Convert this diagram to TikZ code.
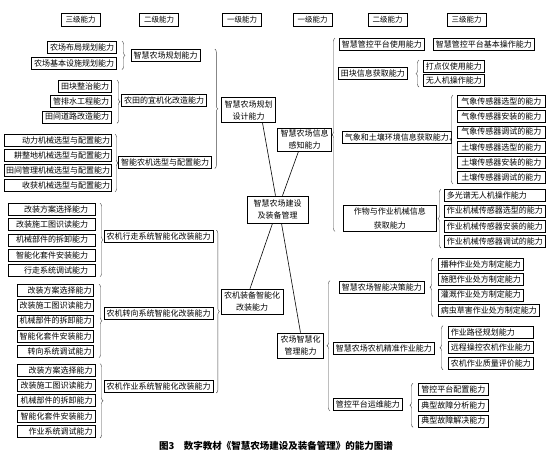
\documentclass[tikz,border=0pt]{standalone}
\usepackage{fontspec}
\newfontfamily\cjk{Noto Sans CJK SC}
\usetikzlibrary{positioning, decorations.pathreplacing, calc}
\tikzset{
  box_base/.style={rectangle, draw=black, line width=0.7pt, font=\cjk\fontsize{8}{10}\selectfont, inner xsep=2.5pt, inner ysep=1pt, minimum height=12pt},
  head_box/.style={box_base, font=\cjk\fontsize{7.5}{9}\selectfont, inner xsep=4.5pt, minimum height=13pt},
  lvl_one/.style={box_base, align=center, font=\cjk\fontsize{8}{12}\selectfont, inner xsep=3pt, minimum height=25pt},
  lvl_two/.style={box_base},
  lvl_three/.style={box_base},
  right_text/.style={text width=#1, align=right},
  left_text/.style={text width=#1, align=left},
  group_brace/.style={decorate, decoration={brace, amplitude=3pt}, draw=gray!55!black, line width=0.45pt},
  link/.style={-, draw=black, line width=0.6pt},
  cap_text/.style={font=\cjk\bfseries\fontsize{9.5}{11}\selectfont}
}

\begin{document}
\begin{tikzpicture}[x=1pt, y=-1pt]
  \useasboundingbox (0,0) rectangle (553,459);

  % --- Header row ---
  \node[head_box] (head3l) at (80.5,19.5) {三级能力};
  \node[head_box] (head2l) at (159,19.5) {二级能力};
  \node[head_box] (head1l) at (242,19.5) {一级能力};
  \node[head_box] (head1r) at (312.5,19.5) {一级能力};
  \node[head_box] (head2r) at (387.5,19.5) {二级能力};
  \node[head_box] (head3r) at (466.5,19.5) {三级能力};

  % --- First level ---
  \node[lvl_one, minimum width=61pt, minimum height=27pt] (core) at (277.5,209.5) {智慧农场建设\\及装备管理};
  \node[lvl_one, minimum width=53pt] (plan) at (248.5,110) {智慧农场规划\\设计能力};
  \node[lvl_one, minimum width=51pt, minimum height=23pt] (sense) at (304.5,139.5) {智慧农场信息\\感知能力};
  \node[lvl_one, minimum width=60pt] (equip) at (252,301.5) {农机装备智能化\\改装能力};
  \node[lvl_one, minimum width=45pt] (manage) at (300.5,345.5) {农场智慧化\\管理能力};

  % --- Left: farm planning ---
  \node[lvl_two] (farmplan) at (165.5,55.5) {智慧农场规划能力};
  \node[lvl_three, anchor=east] (layout) at (117,47.5) {农场布局规划能力};
  \node[lvl_three, below=3pt of layout.south east, anchor=north east] (infra) {农场基本设施规划能力};

  \node[lvl_two] (fieldmod) at (164,100.5) {农田的宜机化改造能力};
  \node[lvl_three, anchor=east] (lev) at (112,86.5) {田块整治能力};
  \node[lvl_three, below=2.5pt of lev.south east, anchor=north east] (drain) {管排水工程能力};
  \node[lvl_three, below=2.5pt of drain.south east, anchor=north east] (road) {田间道路改造能力};

  \node[lvl_two] (machsel) at (165,162) {智能农机选型与配置能力};
  \node[lvl_three, right_text=104pt, inner xsep=1.5pt, anchor=east] (powm) at (112,140.5) {动力机械选型与配置能力};
  \node[lvl_three, right_text=104pt, inner xsep=1.5pt, below=2.3pt of powm] (tillm) {耕整地机械选型与配置能力};
  \node[lvl_three, right_text=104pt, inner xsep=1.5pt, below=2.3pt of tillm] (mgmtm) {田间管理机械选型与配置能力};
  \node[lvl_three, right_text=104pt, inner xsep=1.5pt, below=2.3pt of mgmtm] (harvm) {收获机械选型与配置能力};

  % --- Left: retrofit ---
  \node[lvl_two] (walkmod) at (158.5,236.5) {农机行走系统智能化改装能力};
  \node[lvl_three, right_text=72pt, inner xsep=7.5pt, anchor=east] (walkA) at (96,209.5) {改装方案选择能力};
  \node[lvl_three, right_text=72pt, inner xsep=7.5pt, below=2.5pt of walkA] (walkB) {改装施工图识读能力};
  \node[lvl_three, right_text=72pt, inner xsep=7.5pt, below=2.5pt of walkB] (walkC) {机械部件的拆卸能力};
  \node[lvl_three, right_text=72pt, inner xsep=7.5pt, below=2.5pt of walkC] (walkD) {智能化套件安装能力};
  \node[lvl_three, right_text=72pt, inner xsep=7.5pt, below=2.5pt of walkD] (walkE) {行走系统调试能力};

  \node[lvl_two] (steermod) at (158.5,313.5) {农机转向系统智能化改装能力};
  \node[lvl_three, right_text=72pt, inner xsep=2pt, anchor=east] (steerA) at (94,290.5) {改装方案选择能力};
  \node[lvl_three, right_text=72pt, inner xsep=2pt, below=2.5pt of steerA] (steerB) {改装施工图识读能力};
  \node[lvl_three, right_text=72pt, inner xsep=2pt, below=2.5pt of steerB] (steerC) {机械部件的拆卸能力};
  \node[lvl_three, right_text=72pt, inner xsep=2pt, below=2.5pt of steerC] (steerD) {智能化套件安装能力};
  \node[lvl_three, right_text=72pt, inner xsep=2pt, below=2.5pt of steerD] (steerE) {转向系统调试能力};

  \node[lvl_two] (workmod) at (158.5,386.5) {农机作业系统智能化改装能力};
  \node[lvl_three, right_text=72pt, inner xsep=3pt, anchor=east] (workA) at (96,370) {改装方案选择能力};
  \node[lvl_three, right_text=72pt, inner xsep=3pt, below=2.7pt of workA] (workB) {改装施工图识读能力};
  \node[lvl_three, right_text=72pt, inner xsep=3pt, below=2.7pt of workB] (workC) {机械部件的拆卸能力};
  \node[lvl_three, right_text=72pt, inner xsep=3pt, below=2.7pt of workC] (workD) {智能化套件安装能力};
  \node[lvl_three, right_text=72pt, inner xsep=3pt, below=2.7pt of workD] (workE) {作业系统调试能力};

  % --- Right: sensing ---
  \node[lvl_two, anchor=west] (platuse) at (339,44.5) {智慧管控平台使用能力};
  \node[lvl_three, anchor=west] (platbasic) at (433,44.5) {智慧管控平台基本操作能力};

  \node[lvl_two, anchor=west] (fieldinfo) at (338,73) {田块信息获取能力};
  \node[lvl_three, anchor=west] (dotter) at (423,66.5) {打点仪使用能力};
  \node[lvl_three, below=1.5pt of dotter] (uav) {无人机操作能力};

  \node[lvl_two, anchor=west] (envinfo) at (342,137) {气象和土壤环境信息获取能力};
  \node[lvl_three, anchor=west, inner xsep=4pt] (wsel) at (457,101.5) {气象传感器选型的能力};
  \node[lvl_three, inner xsep=4pt, below=2.5pt of wsel] (winst) {气象传感器安装的能力};
  \node[lvl_three, inner xsep=4pt, below=2.5pt of winst] (wtest) {气象传感器调试的能力};
  \node[lvl_three, inner xsep=4pt, below=2.5pt of wtest] (ssel) {土壤传感器选型的能力};
  \node[lvl_three, inner xsep=4pt, below=2.5pt of ssel] (sinst) {土壤传感器安装的能力};
  \node[lvl_three, inner xsep=4pt, below=2.5pt of sinst] (stest) {土壤传感器调试的能力};

  \node[lvl_two, anchor=west, align=center, font=\cjk\fontsize{8}{14}\selectfont, minimum width=93pt, minimum height=26pt] (cropinfo) at (343,218) {作物与作业机械信息\\获取能力};
  \node[lvl_three, anchor=west, left_text=96pt] (msuav) at (444,195.5) {多光谱无人机操作能力};
  \node[lvl_three, left_text=96pt, below=2.7pt of msuav] (msel) {作业机械传感器选型的能力};
  \node[lvl_three, left_text=96pt, below=2.7pt of msel] (minst) {作业机械传感器安装的能力};
  \node[lvl_three, left_text=96pt, below=2.7pt of minst] (mtest) {作业机械传感器调试的能力};

  % --- Right: management ---
  \node[lvl_two, anchor=west] (decide) at (339,287) {智慧农场智能决策能力};
  \node[lvl_three, anchor=west] (sow) at (438,264.5) {播种作业处方制定能力};
  \node[lvl_three, below=2.5pt of sow.south west, anchor=north west] (fert) {施肥作业处方制定能力};
  \node[lvl_three, below=2.5pt of fert.south west, anchor=north west] (irrig) {灌溉作业处方制定能力};
  \node[lvl_three, below=2.5pt of irrig.south west, anchor=north west] (pest) {病虫草害作业处方制定能力};

  \node[lvl_two, anchor=west] (precise) at (333,348.5) {智慧农场农机精准作业能力};
  \node[lvl_three, anchor=west, left_text=80pt] (route) at (448,332) {作业路径规划能力};
  \node[lvl_three, left_text=80pt, below=3pt of route] (remote) {远程操控农机作业能力};
  \node[lvl_three, left_text=80pt, below=3pt of remote] (quality) {农机作业质量评价能力};

  \node[lvl_two, anchor=west] (platops) at (333,404.5) {管控平台运维能力};
  \node[lvl_three, anchor=west, inner xsep=3pt] (config) at (418,389.5) {管控平台配置能力};
  \node[lvl_three, inner xsep=3pt, below=3pt of config] (fana) {典型故障分析能力};
  \node[lvl_three, inner xsep=3pt, below=3pt of fana] (fsol) {典型故障解决能力};

  % --- Caption ---
  \node[cap_text] (caption) at (276,446) {图3\hspace{1em}数字教材《智慧农场建设及装备管理》的能力图谱};

  % --- Connections ---
  \draw[link] ([xshift=-2pt]core.north) -- ([xshift=14pt]plan.south);
  \draw[link] ([xshift=5pt]core.north) -- ([xshift=-6pt]sense.south);
  \draw[link] ([xshift=-5pt]core.south) -- ([xshift=-2pt]equip.north);
  \draw[link] ([xshift=4pt]core.south) -- (manage.north);

  % --- Braces, left side (tip to the right) ---
  \draw[group_brace] ([xshift=5pt]layout.north east) -- ([xshift=5pt]infra.south east);
  \draw[group_brace] ([xshift=5pt]lev.north east) -- ([xshift=5pt]road.south east);
  \draw[group_brace] ([xshift=3pt]powm.north east) -- ([xshift=3pt]harvm.south east);
  \draw[group_brace] ([xshift=4pt]walkA.north east) -- ([xshift=4pt]walkE.south east);
  \draw[group_brace] ([xshift=5pt]steerA.north east) -- ([xshift=5pt]steerE.south east);
  \draw[group_brace] ([xshift=4pt]workA.north east) -- ([xshift=4pt]workE.south east);
  \draw[group_brace] ([xshift=3pt]machsel.east |- farmplan.north) -- ([xshift=3pt]machsel.south east);
  \draw[group_brace] ([xshift=3pt]walkmod.north east) -- ([xshift=3pt]workmod.south east);

  % --- Braces, right side (tip to the left) ---
  \draw[group_brace] ([xshift=-4pt]platuse.west |- cropinfo.south) -- ([xshift=-4pt]platuse.north west);
  \draw[group_brace] ([xshift=-3pt]platops.south west) -- ([xshift=-3pt]platops.west |- decide.north);
  \draw[group_brace] ([xshift=-4pt]uav.south west) -- ([xshift=-4pt]dotter.north west);
  \draw[group_brace] ([xshift=-4pt]stest.south west) -- ([xshift=-4pt]wsel.north west);
  \draw[group_brace] ([xshift=-3pt]mtest.south west) -- ([xshift=-3pt]msuav.north west);
  \draw[group_brace] ([xshift=-5pt]pest.south west) -- ([xshift=-5pt]sow.north west);
  \draw[group_brace] ([xshift=-5pt]quality.south west) -- ([xshift=-5pt]route.north west);
  \draw[group_brace] ([xshift=-5pt]fsol.south west) -- ([xshift=-5pt]config.north west);
\end{tikzpicture}
\end{document}
